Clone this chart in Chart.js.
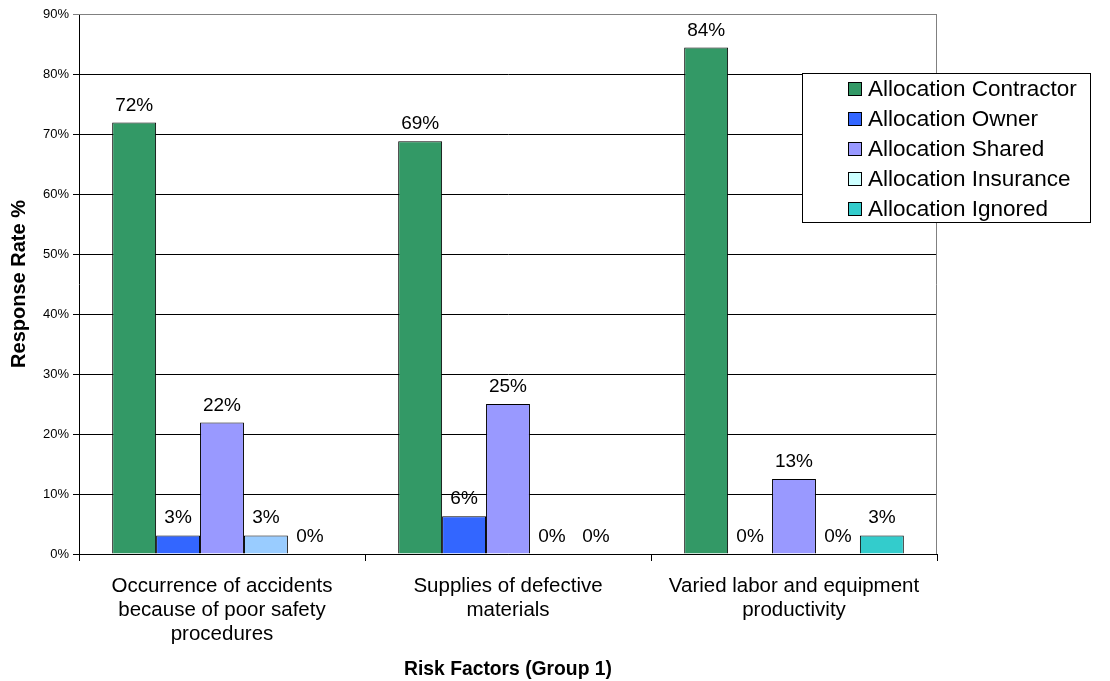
<!DOCTYPE html>
<html>
<head>
<meta charset="utf-8">
<script src="https://cdn.jsdelivr.net/npm/chart.js@4/dist/chart.umd.min.js"></script>
<style>
  html, body { margin: 0; padding: 0; background: #ffffff; }
  #wrap { width: 1110px; height: 681px; }
</style>
</head>
<body>
<div id="wrap"><canvas id="c" width="1110" height="681"></canvas></div>
<script>
// Risk factors and the share of respondents choosing each allocation (%)
const categories = [
  ["Occurrence of accidents", "because of poor safety", "procedures"],
  ["Supplies of defective", "materials"],
  ["Varied labor and equipment", "productivity"]
];
const seriesNames = [
  "Allocation Contractor",
  "Allocation Owner",
  "Allocation Shared",
  "Allocation Insurance",
  "Allocation Ignored"
];
const contractor = [71.9, 68.8, 84.4];
const owner      = [3.1, 6.3, 0];
const shared     = [21.9, 25.0, 12.5];
const insurance  = [3.1, 0, 0];
const ignored    = [0, 0, 3.1];
const yTicks = [0, 10, 20, 30, 40, 50, 60, 70, 80, 90];

const seriesColors = ["#339966", "#3366FF", "#9999FF", "#CCFFFF", "#33CCCC"];
// first insurance bar uses a deeper light blue
const insuranceBarColors = ["#99CCFF", "#CCFFFF", "#CCFFFF"];

const FONT = "'Liberation Sans', Arial, sans-serif";

const valueLabels = {
  id: 'valueLabels',
  afterDatasetsDraw(chart) {
    const ctx = chart.ctx;
    ctx.save();
    ctx.font = "19px " + FONT;
    ctx.fillStyle = "#000";
    ctx.textAlign = "center";
    ctx.textBaseline = "alphabetic";
    chart.data.datasets.forEach((ds, di) => {
      const meta = chart.getDatasetMeta(di);
      meta.data.forEach((bar, i) => {
        const v = ds.data[i];
        ctx.fillText(Math.round(v) + "%", bar.x, bar.y - 12);
      });
    });
    ctx.restore();
  }
};

const plotFrame = {
  id: 'plotFrame',
  beforeDatasetsDraw(chart) {
    const a = chart.chartArea;
    const ctx = chart.ctx;
    ctx.save();
    ctx.strokeStyle = "#808080";
    ctx.lineWidth = 1;
    ctx.beginPath();
    ctx.moveTo(a.left, a.top + 0.5);
    ctx.lineTo(Math.round(a.right) - 0.5, a.top + 0.5);
    ctx.lineTo(Math.round(a.right) - 0.5, a.bottom);
    ctx.stroke();
    ctx.restore();
  }
};

const boxLegend = {
  id: 'boxLegend',
  afterDraw(chart) {
    const ctx = chart.ctx;
    const x0 = 802.5, y0 = 73.5, w = 288, h = 149;
    ctx.save();
    ctx.fillStyle = "#fff";
    ctx.fillRect(x0, y0, w, h);
    ctx.strokeStyle = "#000";
    ctx.lineWidth = 1;
    ctx.strokeRect(x0, y0, w, h);
    ctx.font = "22.5px " + FONT;
    ctx.textBaseline = "middle";
    ctx.textAlign = "left";
    chart.data.datasets.forEach((ds, i) => {
      const cy = 89 + i * 30;
      ctx.fillStyle = seriesColors[i];
      ctx.fillRect(848, cy - 7, 13, 13);
      ctx.strokeStyle = "#000";
      ctx.strokeRect(848.5, cy - 6.5, 13, 13);
      ctx.fillStyle = "#000";
      ctx.fillText(ds.label, 868, cy + 1);
    });
    ctx.restore();
  }
};

const seriesData = [contractor, owner, shared, insurance, ignored];
const datasets = seriesData.map((arr, i) => ({
  label: seriesNames[i],
  data: arr,
  backgroundColor: i === 3 ? insuranceBarColors : seriesColors[i],
  borderColor: "#000",
  borderWidth: 1,
  borderSkipped: 'bottom',
  categoryPercentage: 0.768,
  barPercentage: 1.0
}));

new Chart(document.getElementById('c'), {
  type: 'bar',
  data: { labels: categories, datasets },
  options: {
    responsive: false,
    animation: false,
    devicePixelRatio: 1,
    layout: { padding: { left: 0, right: 173, top: 14, bottom: 0 } },
    plugins: {
      legend: { display: false },
      tooltip: { enabled: false }
    },
    scales: {
      x: {
        grid: {
          display: true,
          offset: true,
          drawOnChartArea: false,
          drawTicks: true,
          tickLength: 7,
          color: "#000"
        },
        border: { display: true, color: "#000", width: 1 },
        ticks: {
          color: "#000",
          font: { family: FONT, size: 20.5, lineHeight: 1.15 },
          padding: 14,
          maxRotation: 0,
          autoSkip: false
        },
        title: {
          display: true,
          text: "Risk Factors (Group 1)",
          color: "#000",
          font: { family: FONT, size: 19.3, weight: 'bold' },
          padding: { top: 16, bottom: 0 }
        },
        afterFit(scale) { scale.height = 127; }
      },
      y: {
        min: 0,
        max: 90,
        afterBuildTicks(scale) { scale.ticks = yTicks.map(v => ({ value: v })); },
        grid: {
          color: (c) => c.tick && c.tick.value === 90 ? "#808080" : "#000",
          lineWidth: 1,
          drawTicks: true,
          tickLength: 6
        },
        border: { display: true, color: "#000", width: 1 },
        ticks: {
          color: "#000",
          font: { family: FONT, size: 13 },
          padding: 4,
          callback: (v) => v + "%"
        },
        title: {
          display: true,
          text: "Response Rate %",
          color: "#000",
          font: { family: FONT, size: 20, weight: 'bold' },
          padding: { top: 7, bottom: 6 }
        },
        afterFit(scale) { scale.width = 79; }
      }
    }
  },
  plugins: [plotFrame, valueLabels, boxLegend]
});
</script>
</body>
</html>
